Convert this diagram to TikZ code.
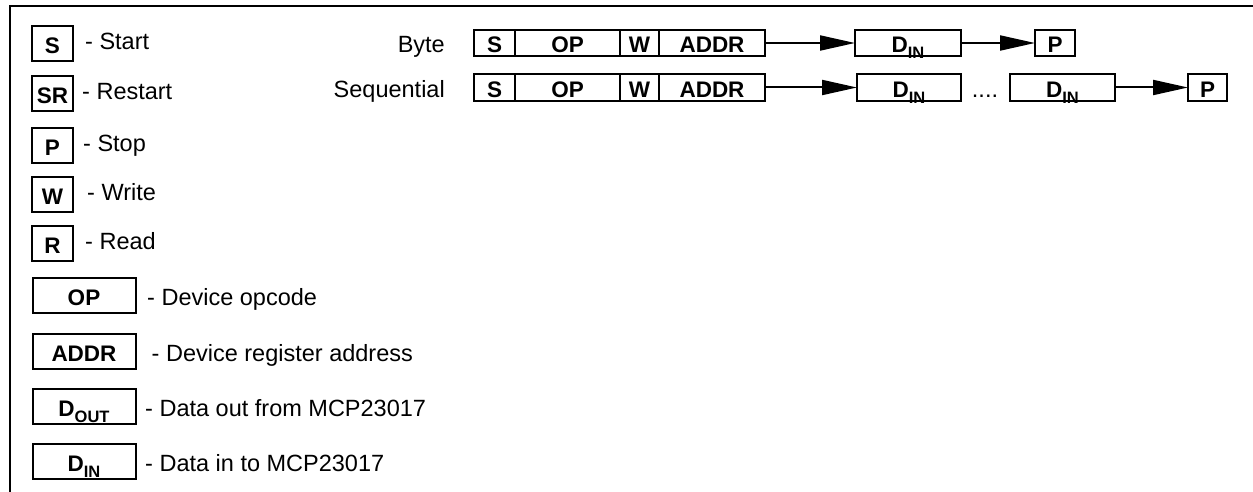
\documentclass[tikz,border=0pt]{standalone}
\usepackage{fontspec}
\setmainfont{Liberation Sans}
\usepackage{xcolor}
\usepackage{tikz}
\usetikzlibrary{calc,arrows.meta}
\definecolor{ink}{HTML}{000000}
\definecolor{paper}{HTML}{FFFFFF}
\newcommand{\Dsub}[1]{D\raisebox{-6pt}{\fontsize{16.5}{18}\selectfont #1}}
\tikzset{
  frame/.style={draw=ink, line width=2.3pt},
  cell/.style={draw=ink, line width=2pt, inner sep=0pt, outer sep=0pt, minimum height=35pt,
    text height=20.5pt, text depth=0pt, font=\fontsize{22.5}{27}\selectfont\bfseries},
  rowcell/.style={cell, minimum height=26.5pt, text height=19.5pt},
  lab/.style={anchor=base west, inner sep=0pt, font=\fontsize{23.5}{28}\selectfont},
  labup/.style={lab, yshift=4pt},
  rowlab/.style={anchor=base east, inner sep=0pt, font=\fontsize{23.5}{28}\selectfont},
  link/.style={draw=ink, line width=2pt, -{Triangle[length=35pt,width=15pt]}},
  every node/.style={text=ink}
}
\begin{document}
\begin{tikzpicture}[x=1pt,y=-1pt]
  \useasboundingbox[fill=paper] (0,0) rectangle (1253,492);
  \draw[frame] (10,492) |- (1253,6);

  \node[cell, minimum width=41pt] (legS) at (52.5,43.5) {S};
  \node[cell, minimum width=41pt] (legSR) at (52.5,93.5) {SR};
  \node[cell, minimum width=41pt] (legP) at (52.5,145.5) {P};
  \node[cell, minimum width=41pt] (legW) at (52.5,194.5) {W};
  \node[cell, minimum width=41pt] (legR) at (52.5,243) {R};
  \node[cell, minimum width=103pt] (legOP) at (84,295.5) {OP};
  \node[cell, minimum width=103pt] (legADDR) at (84,351.5) {ADDR};
  \node[cell, minimum width=103pt] (legDOUT) at (84,406) {\Dsub{OUT}};
  \node[cell, minimum width=103pt] (legDIN) at (84,461) {\Dsub{IN}};

  \node[labup] (labS) at (85,0 |- legS.base) {- Start};
  \node[labup] (labSR) at (82,0 |- legSR.base) {- Restart};
  \node[labup] (labP) at (83,0 |- legP.base) {- Stop};
  \node[labup] (labW) at (87,0 |- legW.base) {- Write};
  \node[labup] (labR) at (85,0 |- legR.base) {- Read};
  \node[lab] (labOP) at (147,0 |- legOP.base) {- Device opcode};
  \node[lab] (labADDR) at (151.5,0 |- legADDR.base) {- Device register address};
  \node[lab] (labDOUT) at (145,0 |- legDOUT.base) {- Data out from MCP23017};
  \node[lab] (labDIN) at (145,0 |- legDIN.base) {- Data in to MCP23017};

  \node[rowcell, minimum width=41pt] (bS) at (494.5,43) {S};
  \node[rowcell, minimum width=105pt] (bOP) at (567.5,43) {OP};
  \node[rowcell, minimum width=39pt] (bW) at (639.5,43) {W};
  \node[rowcell, minimum width=106pt] (bADDR) at (712,43) {ADDR};
  \node[rowcell, minimum width=106pt] (bDIN) at (908,43) {\Dsub{IN}};
  \node[rowcell, minimum width=40pt] (bP) at (1055,43) {P};
  \node[rowlab] (byte) at (445,0 |- bS.base) {Byte};
  \draw[link] (bADDR) -- (bDIN);
  \draw[link] (bDIN) -- (bP);

  \node[rowcell, minimum width=41pt] (qS) at (494.5,87.5) {S};
  \node[rowcell, minimum width=105pt] (qOP) at (567.5,87.5) {OP};
  \node[rowcell, minimum width=39pt] (qW) at (639.5,87.5) {W};
  \node[rowcell, minimum width=106pt] (qADDR) at (712,87.5) {ADDR};
  \node[rowcell, minimum width=104pt] (qDINa) at (909,87.5) {\Dsub{IN}};
  \node[lab, anchor=base] (dots) at (985,0 |- qS.base) {....};
  \node[rowcell, minimum width=105pt] (qDINb) at (1062.5,87.5) {\Dsub{IN}};
  \node[rowcell, minimum width=39pt] (qP) at (1207.5,87.5) {P};
  \node[rowlab] (seq) at (445,0 |- qS.base) {Sequential};
  \draw[link] (qADDR) -- (qDINa);
  \draw[link] (qDINb) -- (qP);
\end{tikzpicture}
\end{document}
